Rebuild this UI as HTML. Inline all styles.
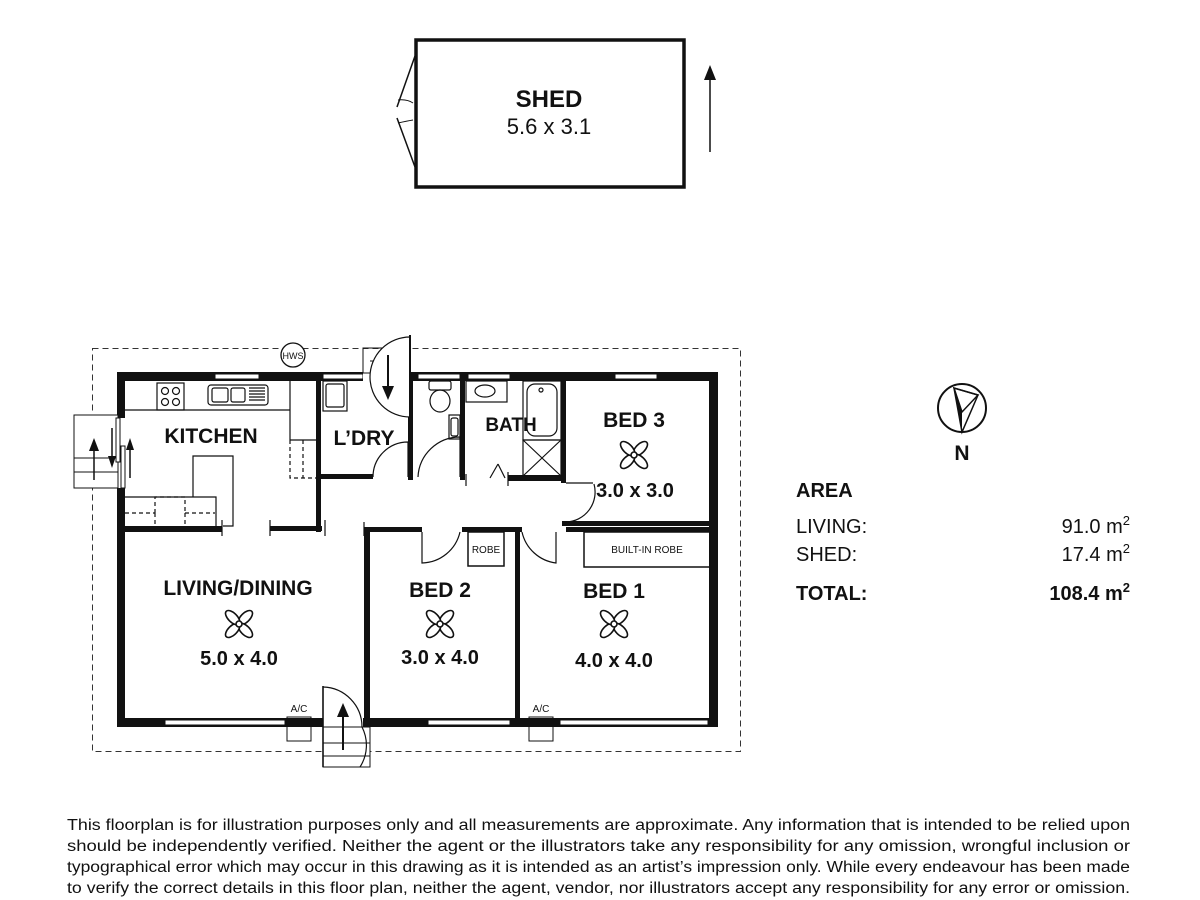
<!DOCTYPE html>
<html><head><meta charset="utf-8"><style>
html,body{margin:0;padding:0;background:#fff;}
svg{display:block;}
text{font-family:"Liberation Sans",sans-serif;fill:#111;}
</style></head><body>
<svg width="1200" height="900" viewBox="0 0 1200 900" xmlns="http://www.w3.org/2000/svg">
<defs>
<g id="fan" fill="#fff" stroke="#111" stroke-width="1.6">
<ellipse cx="0" cy="-9" rx="4.5" ry="9" transform="rotate(45)"/>
<ellipse cx="0" cy="-9" rx="4.5" ry="9" transform="rotate(135)"/>
<ellipse cx="0" cy="-9" rx="4.5" ry="9" transform="rotate(225)"/>
<ellipse cx="0" cy="-9" rx="4.5" ry="9" transform="rotate(315)"/>
<circle r="3"/>
</g>
</defs>
<rect width="1200" height="900" fill="#fff"/>

<!-- SHED -->
<rect x="416" y="40" width="268" height="147" fill="none" stroke="#111" stroke-width="3.5"/>
<line x1="415" y1="56" x2="397" y2="107" stroke="#111" stroke-width="1.5"/>
<line x1="397" y1="118" x2="415" y2="167" stroke="#111" stroke-width="1.5"/>
<path d="M398 100 Q407 99 413 103 M398 123 Q407 121 413 120" fill="none" stroke="#111" stroke-width="1"/>
<text x="549" y="107" font-size="24" text-anchor="middle" font-weight="bold">SHED</text>
<text x="549" y="134" font-size="22" text-anchor="middle">5.6 x 3.1</text>
<line x1="710" y1="152" x2="710" y2="75" stroke="#111" stroke-width="1.5"/>
<polygon points="704,80 710,65 716,80" fill="#111"/>

<!-- dashed boundary -->
<rect x="92.5" y="348.5" width="648" height="403" fill="none" stroke="#333" stroke-width="1" stroke-dasharray="6,4"/>

<!-- HWS -->
<circle cx="293" cy="355" r="12" fill="#fff" stroke="#111" stroke-width="1.3"/>
<text x="293" y="359" font-size="9" text-anchor="middle">HWS</text>

<!-- outer walls -->
<g fill="#111">
<rect x="117" y="372" width="601" height="9"/>
<rect x="117" y="372" width="8" height="354"/>
<rect x="709" y="372" width="9" height="354"/>
<rect x="117" y="718" width="601" height="9"/>
</g>
<!-- windows -->
<g fill="#fff" stroke="#111" stroke-width="1">
<rect x="215" y="374" width="44" height="5"/>
<rect x="323" y="374" width="40" height="5"/>
<rect x="418" y="374" width="42" height="5"/>
<rect x="468" y="374" width="42" height="5"/>
<rect x="615" y="374" width="42" height="5"/>
<rect x="428" y="720" width="82" height="5"/>
<rect x="560" y="720" width="148" height="5"/>
<rect x="165" y="720" width="120" height="5"/>
</g>
<!-- gaps for doors in outer walls -->
<rect x="363" y="371" width="47" height="11" fill="#fff"/>
<rect x="323" y="717" width="40" height="11" fill="#fff"/>
<rect x="116" y="418" width="10" height="70" fill="#fff"/>

<!-- interior walls -->
<g fill="#111">
<rect x="316" y="378" width="5" height="154"/>
<rect x="318" y="474" width="55" height="5"/>
<rect x="408" y="378" width="5" height="102"/>
<rect x="460" y="378" width="5" height="102"/>
<rect x="508" y="475" width="58" height="6"/>
<rect x="561" y="378" width="5" height="105"/>
<rect x="562" y="521" width="150" height="5"/>
<rect x="125" y="526" width="97" height="6"/>
<rect x="270" y="526" width="52" height="5"/>
<rect x="364" y="527" width="6" height="195"/>
<rect x="364" y="527" width="58" height="5"/>
<rect x="462" y="527" width="60" height="5"/>
<rect x="515" y="527" width="5" height="195"/>
<rect x="566" y="527" width="146" height="5"/>
</g>
<g stroke="#111" stroke-width="1.2">
<line x1="222" y1="520" x2="222" y2="536"/><line x1="270" y1="520" x2="270" y2="536"/>
<line x1="325" y1="520" x2="325" y2="536"/><line x1="364" y1="522" x2="364" y2="536"/>
<line x1="466" y1="474" x2="466" y2="486"/><line x1="508" y1="472" x2="508" y2="486"/>
<line x1="566" y1="483" x2="593" y2="483"/>
</g>

<!-- doors arcs -->
<g fill="none" stroke="#111" stroke-width="1.2">
<path d="M373 477 A35 35 0 0 1 408 442 L408 477"/>
<path d="M418 477 A42 42 0 0 1 460 437 L460 477"/>
<path d="M498 464 L490 478 M498 464 L505 478"/>
<path d="M566 522 A30 30 0 0 0 594 484"/>
<path d="M422 532 L422 563 A40 40 0 0 0 460 532"/>
<path d="M522 532 A40 40 0 0 0 556 563 L556 532"/>
</g>

<!-- top exterior door -->
<rect x="363" y="348" width="47" height="25" fill="none" stroke="#111" stroke-width="1"/>
<line x1="370" y1="361" x2="410" y2="361" stroke="#111" stroke-width="1"/>
<path d="M410 337 A40 40 0 0 0 410 417" fill="#fff" stroke="#111" stroke-width="1.2"/>
<line x1="410" y1="335" x2="410" y2="418" stroke="#111" stroke-width="2"/>
<line x1="388" y1="355" x2="388" y2="388" stroke="#111" stroke-width="2"/>
<polygon points="382,386 388,400 394,386" fill="#111"/>

<!-- bottom exterior door -->
<rect x="323" y="727" width="47" height="40" fill="#fff" stroke="#111" stroke-width="1"/>
<line x1="323" y1="743" x2="370" y2="743" stroke="#111" stroke-width="1"/>
<line x1="323" y1="756" x2="370" y2="756" stroke="#111" stroke-width="1"/>
<path d="M323 687 A40 40 0 0 1 362 727 A40 40 0 0 1 360 767" fill="none" stroke="#111" stroke-width="1.2"/>
<line x1="323" y1="686" x2="323" y2="767" stroke="#111" stroke-width="1.6"/>
<line x1="343" y1="750" x2="343" y2="715" stroke="#111" stroke-width="2"/>
<polygon points="337,717 343,703 349,717" fill="#111"/>

<!-- left sliding door -->
<rect x="74" y="415" width="44" height="73" fill="#fff" stroke="#111" stroke-width="1"/>
<line x1="74" y1="458" x2="118" y2="458" stroke="#111" stroke-width="1"/>
<line x1="74" y1="472" x2="118" y2="472" stroke="#111" stroke-width="1"/>
<rect x="116" y="418" width="4" height="44" fill="#fff" stroke="#111" stroke-width="1"/>
<rect x="121" y="446" width="4" height="42" fill="#fff" stroke="#111" stroke-width="1"/>
<line x1="94" y1="480" x2="94" y2="448" stroke="#111" stroke-width="1.5"/>
<polygon points="89,451 94,438 99,451" fill="#111"/>
<line x1="112" y1="428" x2="112" y2="460" stroke="#111" stroke-width="1.5"/>
<polygon points="108,456 112,468 116,456" fill="#111"/>
<line x1="130" y1="478" x2="130" y2="448" stroke="#111" stroke-width="1.5"/>
<polygon points="126,450 130,438 134,450" fill="#111"/>

<!-- kitchen fixtures -->
<g fill="none" stroke="#111" stroke-width="1.2">
<line x1="125" y1="410" x2="290" y2="410"/>
<rect x="157" y="383" width="27" height="27"/>
<circle cx="165" cy="391" r="3.5"/><circle cx="176" cy="391" r="3.5"/>
<circle cx="165" cy="402" r="3.5"/><circle cx="176" cy="402" r="3.5"/>
<rect x="208" y="385" width="60" height="20" rx="3"/>
<rect x="212" y="388" width="16" height="14" rx="2"/><rect x="231" y="388" width="14" height="14" rx="2"/>
<path d="M249 388h16M249 391h16M249 394h16M249 397h16M249 400h16"/>
<line x1="290" y1="381" x2="290" y2="440"/>
<line x1="290" y1="440" x2="316" y2="440"/>
<path d="M290 440v38h26" stroke-dasharray="4,3"/><line x1="303" y1="440" x2="303" y2="478" stroke-dasharray="4,3"/>
<path d="M193 497V456h40v70h-10"/>
<path d="M125 497h91v29"/>
<path d="M125 513h30M185 513h30M155 513v-16h30v16M155 513v13M185 513v13" stroke-dasharray="4,3"/>
</g>

<!-- laundry/wc/bath fixtures -->
<g fill="none" stroke="#111" stroke-width="1.2">
<rect x="323" y="381" width="24" height="30"/><rect x="326" y="384" width="18" height="23" rx="2"/>
<rect x="429" y="381" width="22" height="9" rx="2"/>
<ellipse cx="440" cy="401" rx="10" ry="11"/>
<rect x="449" y="415" width="11" height="24"/><rect x="451" y="418" width="7" height="18" rx="2"/>
<rect x="466" y="381" width="41" height="21"/><ellipse cx="485" cy="391" rx="10" ry="6"/>
<rect x="523" y="381" width="38" height="59"/><rect x="527" y="384" width="30" height="52" rx="8"/>
<circle cx="541" cy="390" r="2"/>
<rect x="523" y="440" width="38" height="36"/>
<path d="M523 440L561 476M561 440L523 476"/>
</g>

<!-- robes -->
<rect x="468" y="532" width="36" height="34" fill="none" stroke="#111" stroke-width="1.5"/>
<text x="486" y="553" font-size="10" text-anchor="middle">ROBE</text>
<rect x="584" y="532" width="126" height="35" fill="none" stroke="#111" stroke-width="1.5"/>
<text x="647" y="553" font-size="10" text-anchor="middle">BUILT-IN ROBE</text>

<!-- A/C -->
<rect x="287" y="717" width="24" height="24" fill="none" stroke="#111" stroke-width="1"/>
<text x="299" y="712" font-size="10" text-anchor="middle">A/C</text>
<rect x="529" y="717" width="24" height="24" fill="none" stroke="#111" stroke-width="1"/>
<text x="541" y="712" font-size="10" text-anchor="middle">A/C</text>

<!-- room labels -->
<g font-weight="bold" font-size="21" text-anchor="middle">
<text x="211" y="443">KITCHEN</text>
<text x="364" y="445">L’DRY</text>
<text x="511" y="431" font-size="19">BATH</text>
<text x="634" y="427">BED 3</text>
<text x="238" y="595">LIVING/DINING</text>
<text x="440" y="597">BED 2</text>
<text x="614" y="598">BED 1</text>
</g>
<g font-size="20" text-anchor="middle" font-weight="bold">
<text x="635" y="497">3.0 x 3.0</text>
<text x="239" y="665">5.0 x 4.0</text>
<text x="440" y="664">3.0 x 4.0</text>
<text x="614" y="667">4.0 x 4.0</text>
</g>
<use href="#fan" x="634" y="455"/>
<use href="#fan" x="239" y="624"/>
<use href="#fan" x="440" y="624"/>
<use href="#fan" x="614" y="624"/>

<!-- compass -->
<circle cx="962" cy="408" r="24" fill="#fff" stroke="#111" stroke-width="2"/>
<polygon points="954,388 962,412 962,432" fill="#111"/>
<polygon points="954,388 962,432 978,395" fill="none" stroke="#111" stroke-width="1.5"/>
<polygon points="954,388 962,412 978,395" fill="none" stroke="#111" stroke-width="1.5"/>
<text x="962" y="460" font-size="21" font-weight="bold" text-anchor="middle">N</text>

<!-- area -->
<g font-size="20">
<text x="796" y="497" font-weight="bold">AREA</text>
<text x="796" y="533">LIVING:</text>
<text x="796" y="561">SHED:</text>
<text x="796" y="600" font-weight="bold">TOTAL:</text>
<text x="1130" y="533" text-anchor="end">91.0 m<tspan font-size="13" dy="-8">2</tspan></text>
<text x="1130" y="561" text-anchor="end">17.4 m<tspan font-size="13" dy="-8">2</tspan></text>
<text x="1130" y="600" text-anchor="end" font-weight="bold">108.4 m<tspan font-size="13" dy="-8">2</tspan></text>
</g>

<!-- disclaimer -->
<g font-size="15.5">
<text x="67" y="830" textLength="1063" lengthAdjust="spacingAndGlyphs">This floorplan is for illustration purposes only and all measurements are approximate. Any information that is intended to be relied upon</text>
<text x="67" y="851" textLength="1063" lengthAdjust="spacingAndGlyphs">should be independently verified. Neither the agent or the illustrators take any responsibility for any omission, wrongful inclusion or</text>
<text x="67" y="872" textLength="1063" lengthAdjust="spacingAndGlyphs">typographical error which may occur in this drawing as it is intended as an artist’s impression only. While every endeavour has been made</text>
<text x="67" y="893" textLength="1063" lengthAdjust="spacingAndGlyphs">to verify the correct details in this floor plan, neither the agent, vendor, nor illustrators accept any responsibility for any error or omission.</text>
</g>
</svg>
</body></html>
